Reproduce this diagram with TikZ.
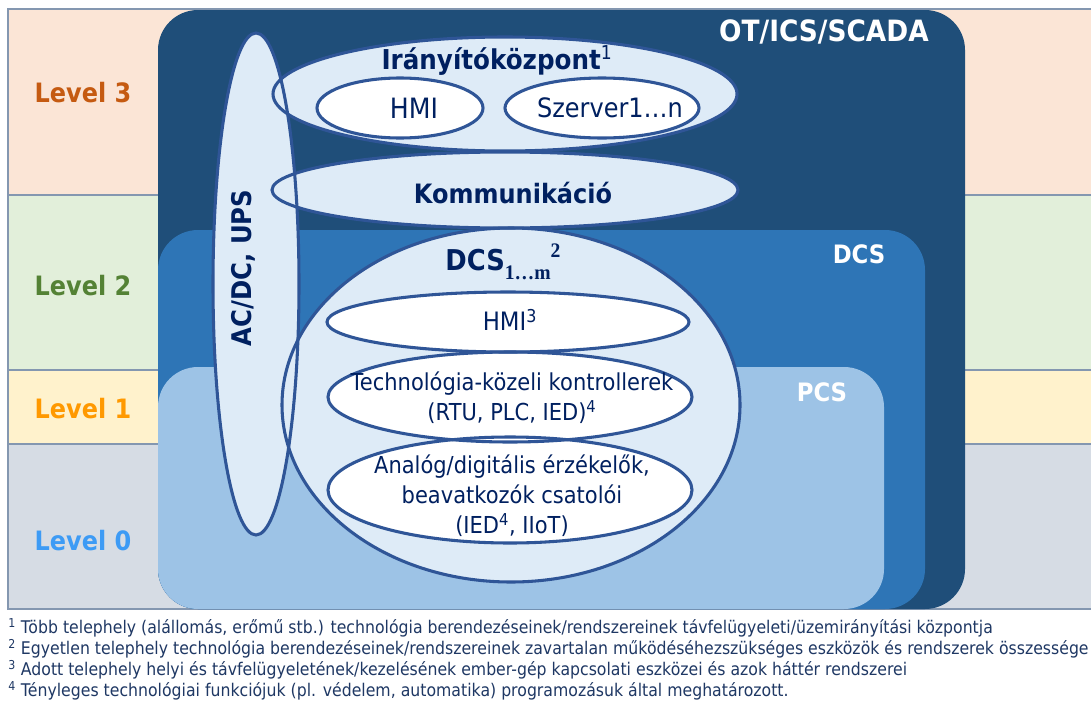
\documentclass[tikz,border=0pt]{standalone}
\usepackage{fontspec}
\setmainfont{DejaVu Sans}[FakeStretch=0.9]
\newfontfamily\serifbold{Liberation Serif}[FakeStretch=0.95]
\usetikzlibrary{shapes.geometric}

\definecolor{lvthree}{HTML}{FBE5D6}
\definecolor{lvtwo}{HTML}{E2EFDA}
\definecolor{lvone}{HTML}{FFF2CC}
\definecolor{lvzero}{HTML}{D6DCE4}
\definecolor{bandline}{HTML}{8497B0}
\definecolor{otblue}{HTML}{1F4E79}
\definecolor{dcsblue}{HTML}{2E75B6}
\definecolor{pcsblue}{HTML}{9DC3E6}
\definecolor{paleblue}{HTML}{DEEBF7}
\definecolor{rimblue}{HTML}{2F5597}
\definecolor{navy}{HTML}{002060}
\definecolor{notecol}{HTML}{1F3864}
\definecolor{lvthreetxt}{HTML}{C55A11}
\definecolor{lvtwotxt}{HTML}{548235}
\definecolor{lvonetxt}{HTML}{FF9900}
\definecolor{lvzerotxt}{HTML}{3D9BF5}

\tikzset{
  band/.style={draw=bandline, line width=0.8pt},
  zone/.style={rounded corners=30pt},
  lvlabel/.style={font=\bfseries\fontsize{20}{24}\selectfont},
  zonelabel/.style={text=white, font=\bfseries\fontsize{19}{23}\selectfont},
  pale/.style={ellipse, fill=paleblue, inner sep=0pt, outer sep=0pt},
  bright/.style={ellipse, fill=white, inner sep=0pt, outer sep=0pt},
  rim/.style={ellipse, draw=rimblue, line width=2.3pt, inner sep=0pt, outer sep=0pt},
  boldtxt/.style={text=navy, font=\bfseries\fontsize{18}{22}\selectfont},
  plaintxt/.style={text=navy, align=center, font=\fontsize{17.5}{22.5}\selectfont},
  note/.style={anchor=west, text=notecol, inner sep=0pt, font=\fontsize{13.1}{15}\selectfont},
}

\begin{document}
\begin{tikzpicture}[x=0.75pt, y=-0.75pt]
\useasboundingbox (0,0) rectangle (1091,703);
\fill[white] (0,0) rectangle (1091,703);

% level bands across the whole width
\begin{scope}
\clip (0,0) rectangle (1091,703);
\filldraw[band, fill=lvthree] (8,9) rectangle (1095,195);
\filldraw[band, fill=lvtwo]   (8,195) rectangle (1095,370);
\filldraw[band, fill=lvone]   (8,370) rectangle (1095,444);
\filldraw[band, fill=lvzero]  (8,444) rectangle (1095,609);
\end{scope}

\node[lvlabel, text=lvthreetxt] (lthree) at (83,93)  {Level 3};
\node[lvlabel, text=lvtwotxt]   (ltwo)   at (83,286) {Level 2};
\node[lvlabel, text=lvonetxt]   (lone)   at (83,409) {Level 1};
\node[lvlabel, text=lvzerotxt]  (lzero)  at (83,541) {Level 0};

% nested system zones
\fill[zone, otblue]  (158,10)  rectangle (965,609);
\fill[zone, dcsblue] (158,230) rectangle (925,609);
\fill[zone, pcsblue] (158,367) rectangle (884,609);

\node[zonelabel, font=\bfseries\fontsize{22}{26}\selectfont] (otlbl) at (824,32) {OT/ICS/SCADA};
\node[zonelabel] (dcslbl) at (859,254) {DCS};
\node[zonelabel] (pcslbl) at (822,392) {PCS};

% pale ellipse fills
\node[pale, minimum width=64.5pt, minimum height=376.5pt] (acdc)  at (256,284) {};
\node[pale, minimum width=348pt,  minimum height=85.5pt]  (irany) at (505,94)  {};
\node[pale, minimum width=349.5pt, minimum height=57pt]   (komm)  at (505,190) {};
\node[pale, minimum width=343.5pt, minimum height=265.5pt] (dcs)  at (511,405) {};

% white ellipse fills
\node[bright, minimum width=124.5pt, minimum height=45pt] (hmitop) at (400,108) {};
\node[bright, minimum width=145.5pt, minimum height=45pt] (szerv)  at (602,108) {};
\node[bright, minimum width=271.5pt, minimum height=45pt] (hmidcs) at (508,322) {};
\node[bright, minimum width=273pt,   minimum height=67.5pt] (tech)  at (510,397) {};
\node[bright, minimum width=273pt,   minimum height=79.5pt] (analog) at (510,490) {};

% outlines drawn over all fills
\node[rim, minimum width=64.5pt,  minimum height=376.5pt] (acdcrim)  at (acdc.center) {};
\node[rim, minimum width=348pt,   minimum height=85.5pt]  (iranyrim) at (irany.center) {};
\node[rim, minimum width=349.5pt, minimum height=57pt]    (kommrim)  at (komm.center) {};
\node[rim, minimum width=343.5pt, minimum height=265.5pt] (dcsrim)   at (dcs.center) {};
\node[rim, minimum width=124.5pt, minimum height=45pt]    (hmitoprim) at (hmitop.center) {};
\node[rim, minimum width=145.5pt, minimum height=45pt]    (szervrim) at (szerv.center) {};
\node[rim, minimum width=271.5pt, minimum height=45pt]    (hmidcsrim) at (hmidcs.center) {};
\node[rim, minimum width=273pt,   minimum height=67.5pt]  (techrim)  at (tech.center) {};
\node[rim, minimum width=273pt,   minimum height=79.5pt]  (analogrim) at (analog.center) {};

% labels
\node[boldtxt, rotate=90, font=\bfseries\fontsize{20.3}{24}\selectfont] (acdctxt) at (243,268) {AC/DC, UPS};
\node[boldtxt, font=\bfseries\fontsize{20.5}{24}\selectfont] (iranytxt) at (497,60) {Irányítóközpont\textsuperscript{\mdseries 1}};
\node[plaintxt, font=\fontsize{21}{25}\selectfont] (hmitoptxt) at (414,108) {HMI};
\node[plaintxt, font=\fontsize{20}{24}\selectfont] (szervtxt) at (610,108) {Szerver1…n};
\node[boldtxt, font=\bfseries\fontsize{20}{24}\selectfont] (kommtxt) at (513,193) {Kommunikáció};
\node[boldtxt, font=\bfseries\fontsize{21.5}{25}\selectfont] (dcstxt) at (503,262) {DCS\raisebox{-0.3em}{\serifbold\bfseries\fontsize{15.5}{17}\selectfont 1…m}\raisebox{0.45em}{\serifbold\bfseries\fontsize{15.5}{17}\selectfont 2}};
\node[plaintxt, font=\fontsize{19}{23}\selectfont] (hmidcstxt) at (510,320) {HMI\textsuperscript{3}};
\node[plaintxt] (techtxt) at (512,398) {Technológia-közeli kontrollerek\\(RTU, PLC, IED)\textsuperscript{4}};
\node[plaintxt] (analogtxt) at (512,496) {Analóg/digitális érzékelők,\\beavatkozók csatolói\\(IED\textsuperscript{4}, IIoT)};

% footnotes
\node[note] (fnone)   at (8,628) {\textsuperscript{1} Több telephely (alállomás, erőmű stb.) technológia berendezéseinek/rendszereinek távfelügyeleti/üzemirányítási központja};
\node[note] (fntwo)   at (8,649) {\textsuperscript{2} Egyetlen telephely technológia berendezéseinek/rendszereinek zavartalan működéséhezszükséges eszközök és rendszerek összessége};
\node[note] (fnthree) at (8,670) {\textsuperscript{3} Adott telephely helyi és távfelügyeletének/kezelésének ember-gép kapcsolati eszközei és azok háttér rendszerei};
\node[note] (fnfour)  at (8,691) {\textsuperscript{4} Tényleges technológiai funkciójuk (pl. védelem, automatika) programozásuk által meghatározott.};
\end{tikzpicture}
\end{document}
